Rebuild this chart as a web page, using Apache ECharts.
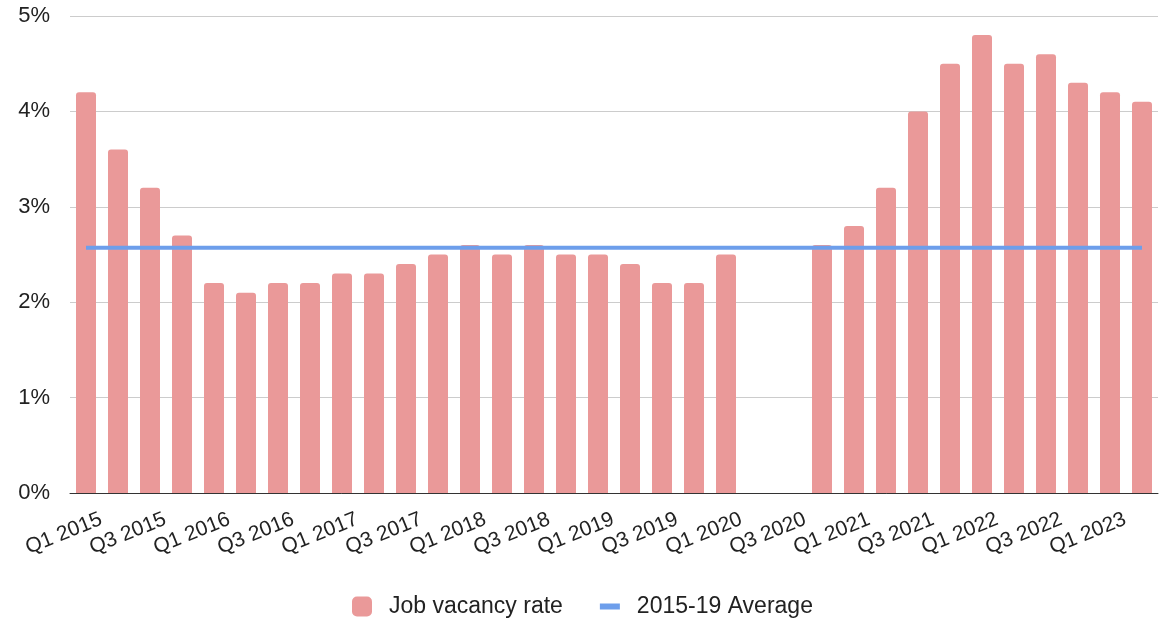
<!DOCTYPE html>
<html>
<head>
<meta charset="utf-8">
<script src="https://cdn.jsdelivr.net/npm/echarts@6/dist/echarts.min.js"></script>
<style>
  html, body { margin: 0; padding: 0; background: #fff; }
  #chart { width: 1160px; height: 620px; }
</style>
</head>
<body>
<div id="chart"></div>
<script>
// quarterly categories, Q1 2015 .. Q2 2023
var categories = [
  'Q1 2015', 'Q2 2015', 'Q3 2015', 'Q4 2015',
  'Q1 2016', 'Q2 2016', 'Q3 2016', 'Q4 2016',
  'Q1 2017', 'Q2 2017', 'Q3 2017', 'Q4 2017',
  'Q1 2018', 'Q2 2018', 'Q3 2018', 'Q4 2018',
  'Q1 2019', 'Q2 2019', 'Q3 2019', 'Q4 2019',
  'Q1 2020', 'Q2 2020', 'Q3 2020', 'Q4 2020',
  'Q1 2021', 'Q2 2021', 'Q3 2021', 'Q4 2021',
  'Q1 2022', 'Q2 2022', 'Q3 2022', 'Q4 2022',
  'Q1 2023', 'Q2 2023'
];
// job vacancy rate, % (no data for Q2/Q3 2020)
var vacancyRate = [
  4.2, 3.6, 3.2, 2.7,
  2.2, 2.1, 2.2, 2.2,
  2.3, 2.3, 2.4, 2.5,
  2.6, 2.5, 2.6, 2.5,
  2.5, 2.4, 2.2, 2.2,
  2.5, null, null, 2.6,
  2.8, 3.2, 4.0, 4.5,
  4.8, 4.5, 4.6, 4.3,
  4.2, 4.1
];
// 2015-19 average, %
var average2015to19 = 2.57;
var yTicks = [0, 1, 2, 3, 4, 5];

var averageLine = categories.map(function () { return average2015to19; });

var myChart = echarts.init(document.getElementById('chart'));
var option = {
  animation: false,
  textStyle: { fontFamily: 'Liberation Sans, Arial, sans-serif' },
  grid: { left: 70, right: 2, top: 16, bottom: 127, containLabel: false },
  legend: {
    top: 590,
    left: 347,
    itemWidth: 20,
    itemHeight: 20,
    itemGap: 37,
    textStyle: { fontSize: 23, color: '#222', padding: [0, 0, 0, 12] },
    data: [
      { name: 'Job vacancy rate', icon: 'roundRect' },
      { name: '2015-19 Average', icon: 'path://M0,0 L20,0 L20,6 L0,6 Z' }
    ]
  },
  xAxis: {
    type: 'category',
    data: categories,
    axisLine: { show: true, lineStyle: { color: '#333', width: 1 } },
    axisTick: { show: false },
    axisLabel: {
      interval: 1,
      rotate: 22,
      fontSize: 21,
      color: '#222',
      verticalAlign: 'top',
      padding: [30, 0, 0, 0],
      margin: -12
    }
  },
  yAxis: {
    type: 'value',
    min: yTicks[0],
    max: yTicks[yTicks.length - 1],
    interval: 1,
    axisLine: { show: false },
    axisTick: { show: false },
    axisLabel: {
      formatter: '{value}%',
      fontSize: 22,
      color: '#222',
      margin: 20
    },
    splitLine: { lineStyle: { color: '#cccccc', width: 1 } }
  },
  series: [{
    name: 'Job vacancy rate',
    type: 'bar',
    data: vacancyRate,
    barWidth: 20,
    itemStyle: { color: '#ea9999', borderRadius: [3, 3, 0, 0] }
  }, {
    name: '2015-19 Average',
    type: 'line',
    data: averageLine,
    symbol: 'none',
    lineStyle: { color: '#6d9eeb', width: 4 },
    itemStyle: { color: '#6d9eeb' }
  }]
};
myChart.setOption(option);
</script>
</body>
</html>
